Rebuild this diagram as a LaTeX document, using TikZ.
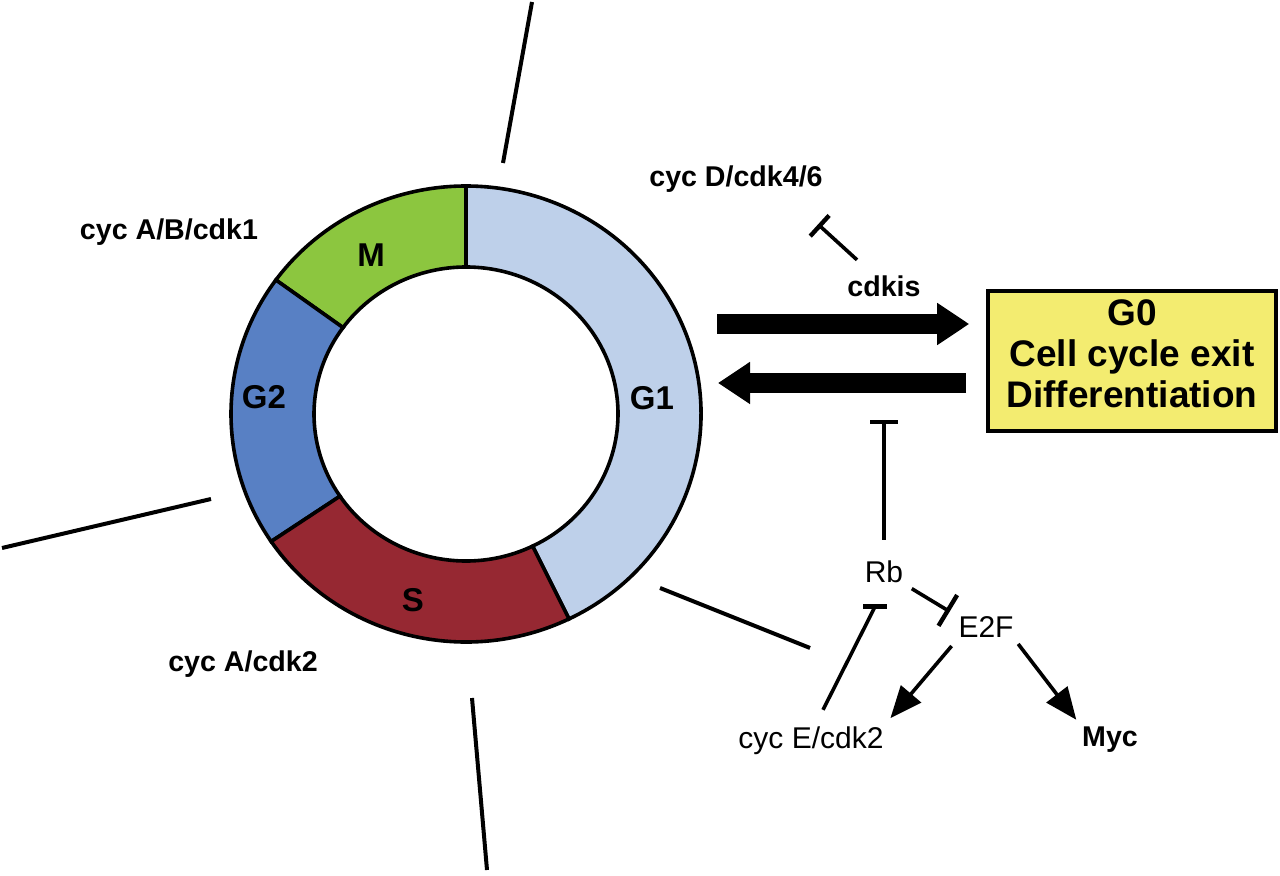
\documentclass[tikz,border=0pt]{standalone}
\usepackage{fontspec}
\setmainfont{Liberation Sans}
\usetikzlibrary{arrows.meta}

\definecolor{gonecol}{RGB}{190,208,234}
\definecolor{mcol}{RGB}{140,198,63}
\definecolor{gtwocol}{RGB}{88,128,196}
\definecolor{scol}{RGB}{150,40,50}
\definecolor{gzerocol}{RGB}{243,236,112}

\tikzset{
  ringline/.style={draw=black, line width=1.8pt},
  tick/.style={line width=2pt},
  lab/.style={font=\fontsize{14.3}{17}\selectfont\bfseries, inner sep=0pt, anchor=base},
  labthin/.style={font=\fontsize{15}{18}\selectfont, inner sep=0pt, anchor=base},
  phase/.style={font=\fontsize{16.5}{19}\selectfont\bfseries, inner sep=0pt, anchor=base},
  bigarrow/.style={line width=10pt, -{Triangle[length=16pt,width=20pt]}},
  inhib/.style={line width=1.8pt, -{Bar[width=14pt,line width=2.2pt]}},
  plainline/.style={line width=1.8pt},
  act/.style={line width=1.8pt, -{Triangle[length=16pt,width=13pt]}},
  gbox/.style={draw, line width=1.8pt, fill=gzerocol, minimum width=144pt, minimum height=70pt, inner sep=0pt},
  gtext/.style={font=\fontsize{18.5}{20.5}\selectfont\bfseries, align=center, inner sep=0pt}
}

\newcommand\ringseg[3]{%
  \filldraw[ringline, fill=#3] (#1:235 and 228) arc[start angle=#1, end angle=#2, x radius=235, y radius=228]
    -- (#2:152 and 147) arc[start angle=#2, end angle=#1, x radius=152, y radius=147] -- cycle;}

\begin{document}
\begin{tikzpicture}[x=0.5pt,y=0.5pt]
    \useasboundingbox (0,0) rectangle (1280,-876);

    \draw[tick] (532,-2) -- (503,-163);
    \draw[tick] (2,-548) -- (211,-499);
    \draw[tick] (472,-698) -- (487,-870);
    \draw[tick] (660,-588) -- (810,-648);

    \begin{scope}[shift={(466,-414)}]
      \ringseg{-64}{90}{gonecol}
      \ringseg{90}{144}{mcol}
      \ringseg{144}{214}{gtwocol}
      \ringseg{214}{296}{scol}
    \end{scope}

    \node[phase] (m) at (371,-267) {M};
    \node[phase] (gtwo) at (264,-409) {G2};
    \node[phase] (gone) at (652,-410) {G1};
    \node[phase] (s) at (413,-612) {S};

    \node[lab] (cycab) at (169,-240) {cyc A/B/cdk1};
    \node[lab] (cyca) at (243,-672) {cyc A/cdk2};
    \node[lab] (cycd) at (736,-187) {cyc D/cdk4/6};
    \node[lab] (cdkis) at (884,-297) {cdkis};
    \node[labthin] (rb) at (884,-583) {Rb};
    \node[labthin] (etwof) at (986,-638) {E2F};
    \node[labthin] (cyce) at (811,-748) {cyc E/cdk2};
    \node[lab] (myc) at (1110,-747) {Myc};

    \node[gbox] (g0) at (1132,-361) {};
    \node[gtext] (g0txt) at ([yshift=3.5pt]g0.center) {G0\\Cell cycle exit\\Differentiation};

    \coordinate (cycout) at (717,-324);
    \coordinate (cycin) at (718,-383);
    \coordinate (backbar) at (884,-420);
    \coordinate (rbfoot) at ([xshift=-4.5pt,yshift=-11.5pt]rb.south);

    \draw[bigarrow, shorten >=8.5pt] (cycout) -- (cycout -| g0.west);
    \draw[bigarrow, shorten <=10pt] (g0.west |- cycin) -- (cycin);

    \draw[inhib] ([xshift=5pt,yshift=8pt]cdkis.north west) -- ([xshift=-2.5pt,yshift=-15.5pt]cycd.south east);
    \draw[inhib, shorten <=10.5pt] (rb.north) -- (backbar);
    \draw[plainline] ([xshift=6pt,yshift=8pt]cyce.north) -- (rbfoot);
    \draw[line width=2.2pt] ([xshift=-6pt]rbfoot) -- ([xshift=6pt]rbfoot);
    \draw[inhib, -{Bar[width=18pt,line width=2.2pt]}, shorten <=4.8pt, shorten >=4.9pt] (rb.south east) -- (etwof.north west);
    \draw[act, shorten <=5pt, shorten >=5pt] (etwof.south west) -- (cyce.north east);
    \draw[act, shorten <=3.5pt, shorten >=4.5pt] (etwof.south east) -- (myc.north west);
\end{tikzpicture}
\end{document}
